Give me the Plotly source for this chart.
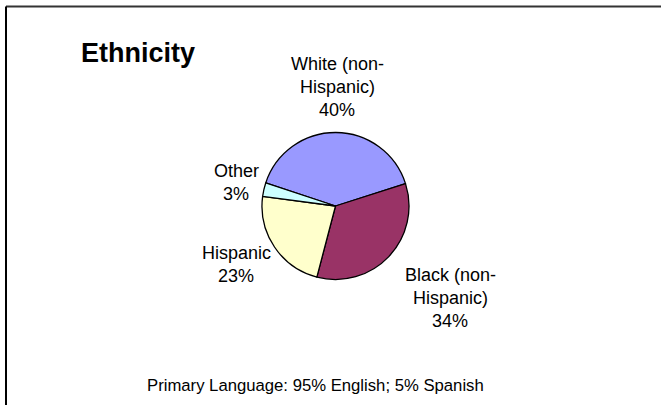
import plotly.graph_objects as go

title = "Ethnicity"
labels = ["White (non-<br>Hispanic)", "Black (non-<br>Hispanic)", "Hispanic", "Other"]
values = [40, 34, 23, 3]
colors = ["#9999FF", "#993366", "#FFFFCC", "#CCFFFF"]
footer = "Primary Language: 95% English; 5% Spanish"

W, H = 661, 405
# label centre positions (pixels, from top-left)
label_pos = [(337, 87), (450, 298), (236, 264), (236, 182)]
line_gap = 23

fig = go.Figure(go.Pie(
    labels=labels, values=values, sort=False, direction="clockwise",
    rotation=-71.7,
    marker=dict(colors=colors, line=dict(color="black", width=1.3)),
    textinfo="none", hoverinfo="label+percent", showlegend=False,
    domain=dict(x=[(335.5 - 73.5) / W, (335.5 + 73.5) / W],
                y=[1 - (206 + 73.5) / H, 1 - (206 - 73.5) / H]),
))

font = "Liberation Sans, Arial, sans-serif"
annotations = []
for lab, val, (px, py) in zip(labels, values, label_pos):
    lines = lab.split("<br>") + [f"{val}%"]
    n = len(lines)
    for i, ln in enumerate(lines):
        annotations.append(dict(
            x=px / W, y=1 - py / H, xref="paper", yref="paper",
            text=ln, showarrow=False, xanchor="center", yanchor="middle",
            yshift=-(i - (n - 1) / 2) * line_gap,
            font=dict(family=font, size=18, color="black")))

annotations.append(dict(x=79 / W, y=1 - 53 / H, xref="paper", yref="paper",
                        text=f"<b>{title}</b>", showarrow=False,
                        xanchor="left", yanchor="middle",
                        font=dict(family=font, size=27, color="black")))
annotations.append(dict(x=315 / W, y=1 - 385 / H, xref="paper", yref="paper",
                        text=footer, showarrow=False,
                        xanchor="center", yanchor="middle",
                        font=dict(family=font, size=16.7, color="black")))

shapes = [
    dict(type="line", xref="paper", yref="paper", x0=6 / W, x1=1.02,
         y0=1 - 6.5 / H, y1=1 - 6.5 / H, line=dict(color="#333333", width=2)),
    dict(type="line", xref="paper", yref="paper", x0=6 / W, x1=6 / W,
         y0=1 - 6.5 / H, y1=-0.02, line=dict(color="black", width=2)),
]

fig.update_layout(width=W, height=H, margin=dict(l=0, r=0, t=0, b=0),
                  paper_bgcolor="white", plot_bgcolor="white",
                  annotations=annotations, shapes=shapes)
fig.write_html("out.html", config={"displayModeBar": False},
               post_script="document.body.style.margin='0';document.body.style.overflow='hidden';")
